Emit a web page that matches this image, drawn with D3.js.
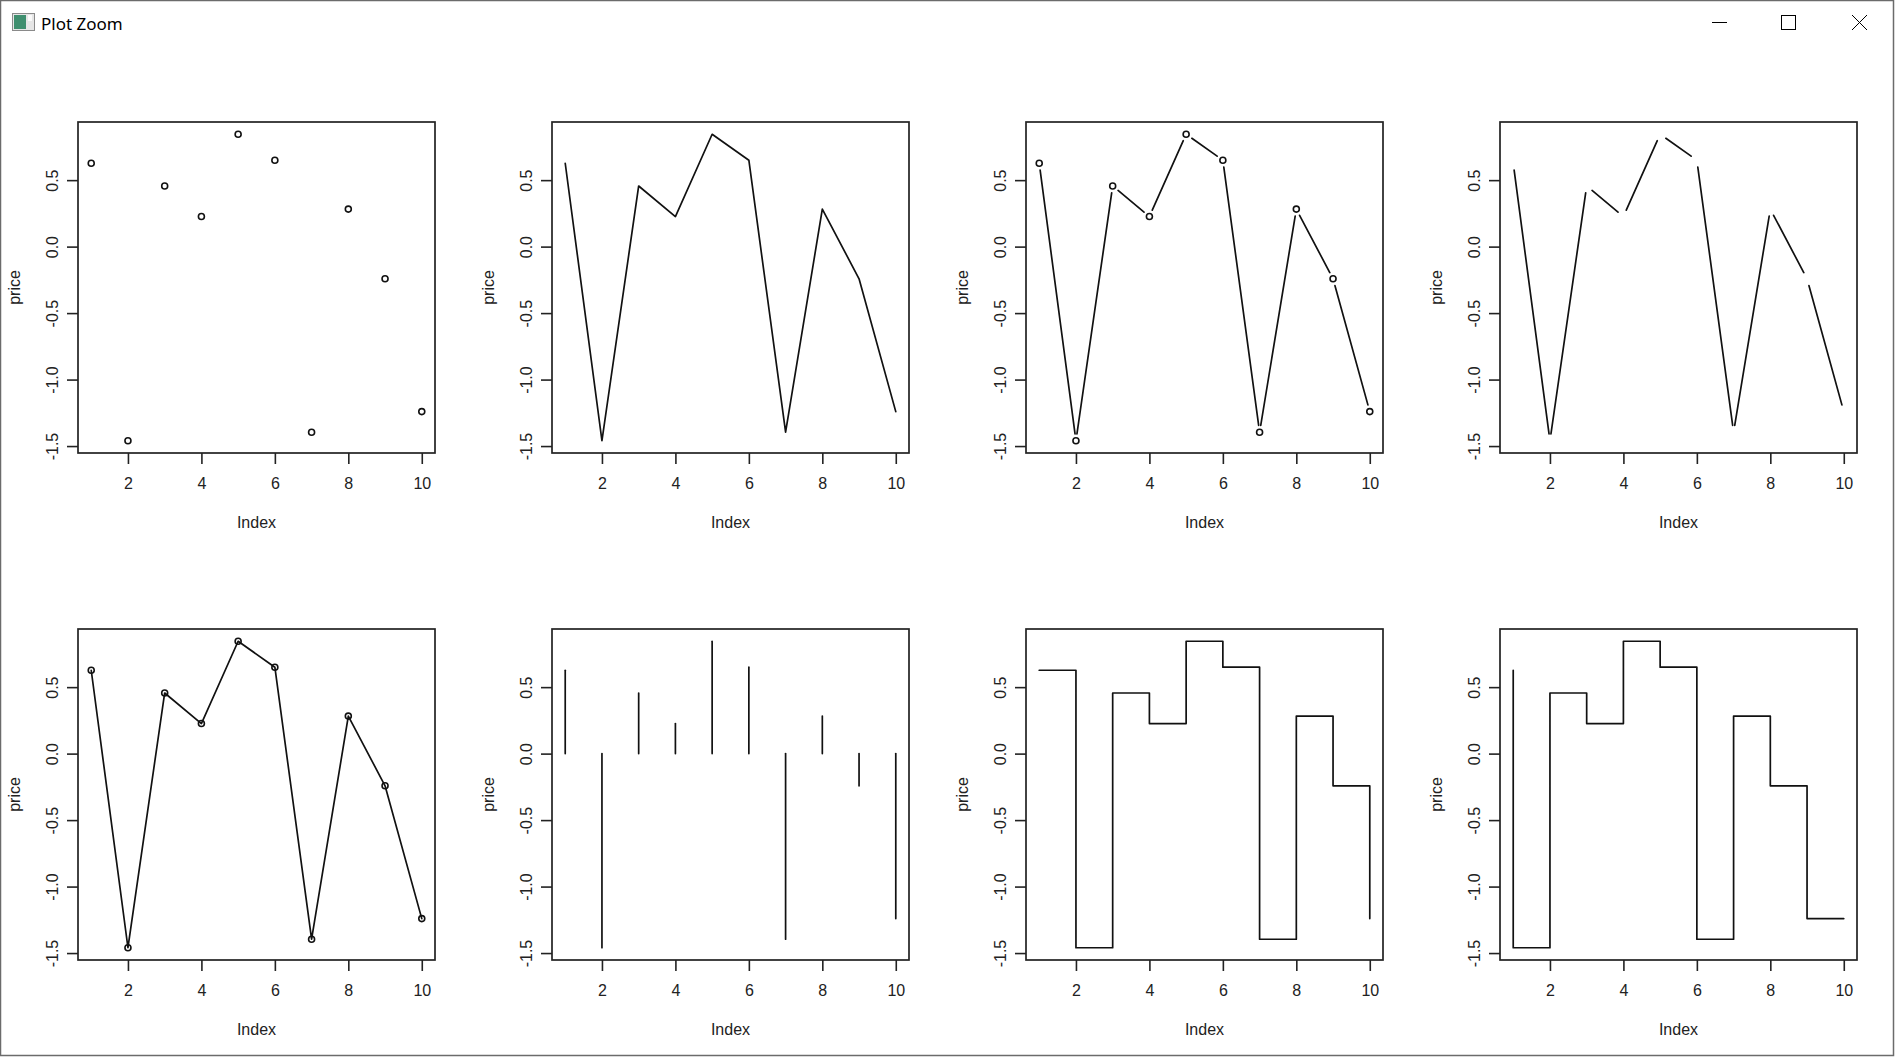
<!DOCTYPE html>
<html>
<head>
<meta charset="utf-8">
<title>Plot Zoom</title>
<style>
  body { margin: 0; background: #fff; }
  svg text { font-family: "Liberation Sans", Arial, sans-serif; }
  .tick line { stroke: #222; stroke-width: 1.6px; }
  .tick text { font-size: 16px; fill: #222; }
  .axis .domain { stroke: none; }
  .frame { fill: none; stroke: #222; stroke-width: 1.7px; }
  .line { fill: none; stroke: #111; stroke-width: 1.7px; stroke-linecap: round; stroke-linejoin: round; }
  .pt { fill: none; stroke: #111; stroke-width: 1.6px; }
  .lab { font-size: 16px; fill: #222; }
</style>
</head>
<body>
<svg width="1895" height="1057"></svg>
<script src="https://d3js.org/d3.v7.min.js"></script>
<script>

// price values, index 1..10
var index = [1, 2, 3, 4, 5, 6, 7, 8, 9, 10];
var price = [0.627, -1.46, 0.456, 0.226, 0.845, 0.65, -1.396, 0.282, -0.242, -1.241];

// plot types, one per panel (R style)
var types = ["p", "l", "b", "c", "o", "h", "s", "S"];

var xTicks = [2, 4, 6, 8, 10];
var yTicks = [-1.5, -1.0, -0.5, 0.0, 0.5];
var yTickLabels = ["-1.5", "-1.0", "-0.5", "0.0", "0.5"];

var svg = d3.select("svg");

// window chrome
svg.append("rect").attr("x", 0.5).attr("y", 0.5).attr("width", 1893).attr("height", 1055)
  .attr("fill", "#fff").attr("stroke", "#6b6b6b").attr("stroke-width", 1.5);
var icon = svg.append("g");
icon.append("rect").attr("x", 12.5).attr("y", 13.5).attr("width", 22).attr("height", 17)
  .attr("fill", "#e6e6e6").attr("stroke", "#8a8a8a");
icon.append("rect").attr("x", 14).attr("y", 15).attr("width", 12).attr("height", 14).attr("fill", "#3f8f6f");
icon.append("rect").attr("x", 28).attr("y", 15).attr("width", 4).attr("height", 6).attr("fill", "#fafafa");
svg.append("text").attr("x", 41).attr("y", 30).style("font-family", "'Noto Sans', 'Open Sans', sans-serif")
  .style("font-size", "17px").attr("fill", "#000").text("Plot Zoom");
svg.append("line").attr("x1", 1712).attr("x2", 1727).attr("y1", 22.5).attr("y2", 22.5).attr("stroke", "#000");
svg.append("rect").attr("x", 1781.5).attr("y", 15.5).attr("width", 14).attr("height", 14)
  .attr("fill", "none").attr("stroke", "#000");
svg.append("path").attr("d", "M1852,15L1867,30M1867,15L1852,30").attr("stroke", "#000").attr("fill", "none");

// panel layout
var colX = [78, 552, 1026, 1500],
    rowY = [122, 629],
    pw = 357, ph = 331;

function pad(ext) {
  var d = (ext[1] - ext[0]) * 0.04;
  return [ext[0] - d, ext[1] + d];
}

var x = d3.scaleLinear().domain(pad(d3.extent(index))).range([0, pw]);
var y = d3.scaleLinear().domain(pad(d3.extent(price))).range([ph, 0]);

var data = index.map(function(d, i) { return {i: d, v: price[i]}; });

// line with gaps around the points (type b / c)
function gapped(g, gap) {
  for (var k = 0; k < data.length - 1; k++) {
    var x0 = x(data[k].i), y0 = y(data[k].v), x1 = x(data[k + 1].i), y1 = y(data[k + 1].v);
    var len = Math.hypot(x1 - x0, y1 - y0);
    if (len <= 2 * gap) continue;
    var ux = (x1 - x0) / len, uy = (y1 - y0) / len;
    g.append("line").attr("class", "line")
      .attr("x1", x0 + ux * gap).attr("y1", y0 + uy * gap)
      .attr("x2", x1 - ux * gap).attr("y2", y1 - uy * gap);
  }
}

function points(g) {
  g.selectAll("circle").data(data).enter().append("circle")
    .attr("class", "pt")
    .attr("cx", function(d) { return x(d.i); })
    .attr("cy", function(d) { return y(d.v); })
    .attr("r", 3);
}

function linePath(g, curve) {
  g.append("path").datum(data).attr("class", "line")
    .attr("d", d3.line().x(function(d) { return x(d.i); }).y(function(d) { return y(d.v); }).curve(curve));
}

types.forEach(function(t, n) {
  var g = svg.append("g")
    .attr("transform", "translate(" + colX[n % 4] + "," + rowY[Math.floor(n / 4)] + ")");

  // axes
  g.append("g").attr("class", "axis")
    .attr("transform", "translate(0," + ph + ")")
    .call(d3.axisBottom(x).tickValues(xTicks).tickSize(11).tickSizeOuter(0))
    .selectAll("text").attr("y", 36).attr("dy", 0);

  g.append("g").attr("class", "axis")
    .call(d3.axisLeft(y).tickValues(yTicks).tickSize(11).tickSizeOuter(0)
      .tickFormat(function(d, i) { return yTickLabels[i]; }))
    .selectAll("text")
      .attr("x", 0).attr("dy", 0)
      .attr("text-anchor", "middle")
      .attr("transform", "translate(-20,0) rotate(-90)");

  g.append("text").attr("class", "lab")
    .attr("x", pw / 2).attr("y", ph + 75)
    .attr("text-anchor", "middle").text("Index");
  g.append("text").attr("class", "lab")
    .attr("transform", "translate(-58," + (ph / 2) + ") rotate(-90)")
    .attr("text-anchor", "middle").text("price");

  // marks
  if (t === "p") {
    points(g);
  } else if (t === "l") {
    linePath(g, d3.curveLinear);
  } else if (t === "b") {
    gapped(g, 7);
    points(g);
  } else if (t === "c") {
    gapped(g, 7);
  } else if (t === "o") {
    linePath(g, d3.curveLinear);
    points(g);
  } else if (t === "h") {
    g.selectAll(".hline").data(data).enter().append("line")
      .attr("class", "line")
      .attr("x1", function(d) { return x(d.i); })
      .attr("x2", function(d) { return x(d.i); })
      .attr("y1", y(0))
      .attr("y2", function(d) { return y(d.v); });
  } else if (t === "s") {
    linePath(g, d3.curveStepAfter);
  } else if (t === "S") {
    linePath(g, d3.curveStepBefore);
  }

  g.append("rect").attr("class", "frame").attr("width", pw).attr("height", ph);
});

</script>
</body>
</html>
